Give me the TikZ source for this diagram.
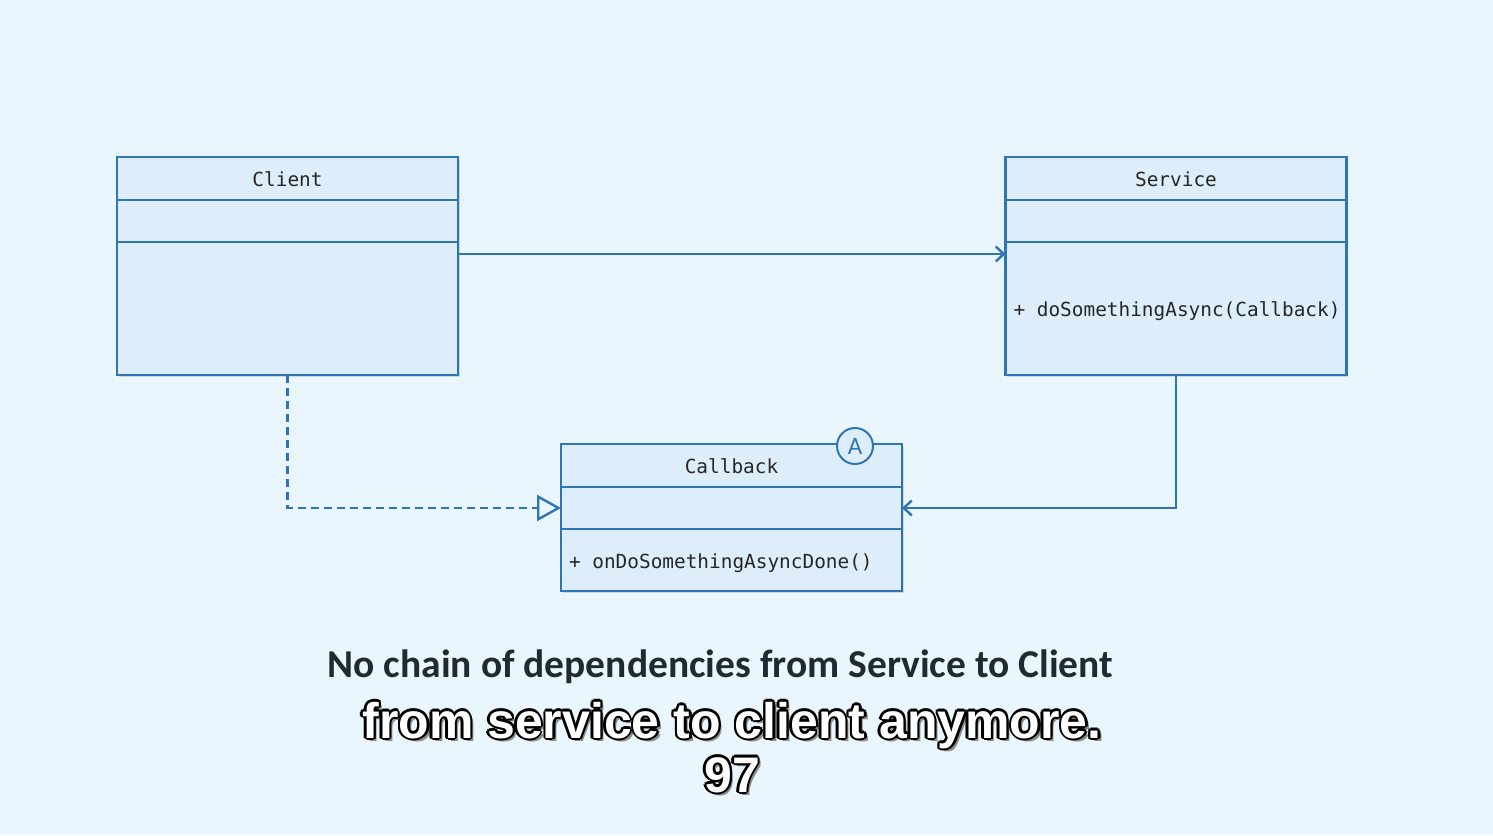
\documentclass[tikz,border=0pt]{standalone}
\usepackage{fontspec}
\setmainfont{Carlito}
\newfontfamily\umlfont{DejaVu Sans Mono}
\newfontfamily\subfont{Liberation Sans}
\usetikzlibrary{positioning}
\usetikzlibrary{arrows.meta}
\usetikzlibrary{shadows}

\definecolor{bgblue}{RGB}{234,246,253}
\definecolor{umlblue}{RGB}{46,117,182}
\definecolor{umlfill}{RGB}{221,238,250}
\definecolor{captiongray}{RGB}{33,42,48}

\newcommand{\opgap}{\hspace{0.602em}}

\tikzset{
  classpart/.style={draw=umlblue, fill=umlfill, line width=2.6pt, minimum width=341pt,
    inner sep=0pt, outer sep=0pt, text=black!85, text height=16pt, text depth=0pt,
    font=\umlfont\fontsize{19.4}{22}\selectfont,
    drop shadow={shadow xshift=1.5pt, shadow yshift=-2pt, opacity=0.25}},
  classname/.style={classpart, minimum height=43pt},
  classattr/.style={classpart, minimum height=42pt},
  classops/.style={classpart, text width=325pt, inner xsep=8pt, align=left},
  assoc/.style={draw=umlblue, line width=2.4pt, -{Straight Barb[length=8pt,width=15pt]}},
  realize/.style={draw=umlblue, line width=2.4pt, dash pattern=on 8pt off 5pt,
    -{Triangle[open,length=24pt,width=26pt,fill=bgblue]}},
  subtitle/.style={font=\subfont\bfseries\fontsize{50}{56}\selectfont, anchor=base}
}

\begin{document}
\begin{tikzpicture}[x=1pt,y=-1pt]
    \fill[bgblue] (0,0) rectangle (1493,835);

    % Client
    \node[classname] (clientname) at (287.5,178.5) {Client};
    \node[classattr, below=0pt of clientname] (clientattr) {};
    \node[classops, minimum height=133pt, below=0pt of clientattr] (clientops) {};

    % Service
    \node[classname] (servicename) at (1176,178.5) {Service};
    \node[classattr, below=0pt of servicename] (serviceattr) {};
    \node[classops, minimum height=133pt, below=0pt of serviceattr] (serviceops) {\mbox{+\opgap doSomethingAsync(Callback)}};

    % Callback
    \node[classname] (callbackname) at (731.5,465.5) {Callback};
    \node[classattr, below=0pt of callbackname] (callbackattr) {};
    \node[classops, minimum height=62pt, below=0pt of callbackattr] (callbackops) {\mbox{+\opgap onDoSomethingAsyncDone()}};
    \node[circle, draw=umlblue, fill=umlfill, line width=2pt, minimum size=36pt, inner sep=0pt,
      text=umlblue, font=\fontsize{25}{28}\selectfont] (abstract) at (855,446) {A};

    % connectors
    \coordinate (clientout) at (clientops.north east |- 0,254);
    \coordinate (servicein) at (serviceops.north west |- 0,254);
    \draw[assoc] (clientout) -- (servicein);
    \draw[assoc] (serviceops.south) |- (callbackattr.east);
    \draw[realize] (clientops.south) |- (callbackattr.west);

    % caption
    \node[anchor=base, text=captiongray, font=\bfseries\fontsize{39.5}{44}\selectfont] (caption) at (720.5,677)
      {No chain of dependencies from Service to Client};

    % subtitles
    \foreach \dx/\dy/\col [count=\k] in {3.5/3.5/black!45,2.5/0/black,-2.5/0/black,0/2.5/black,0/-2.5/black,
      1.8/1.8/black,-1.8/1.8/black,1.8/-1.8/black,-1.8/-1.8/black}
    {
        \node[subtitle, text=\col] (subedge\k) at (732+\dx,738+\dy) {from service to client anymore.};
        \node[subtitle, text=\col] (numedge\k) at (732+\dx,792+\dy) {97};
    }
    \node[subtitle, text=white] (subline) at (732,738) {from service to client anymore.};
    \node[subtitle, text=white] (subnum) at (732,792) {97};
\end{tikzpicture}
\end{document}
